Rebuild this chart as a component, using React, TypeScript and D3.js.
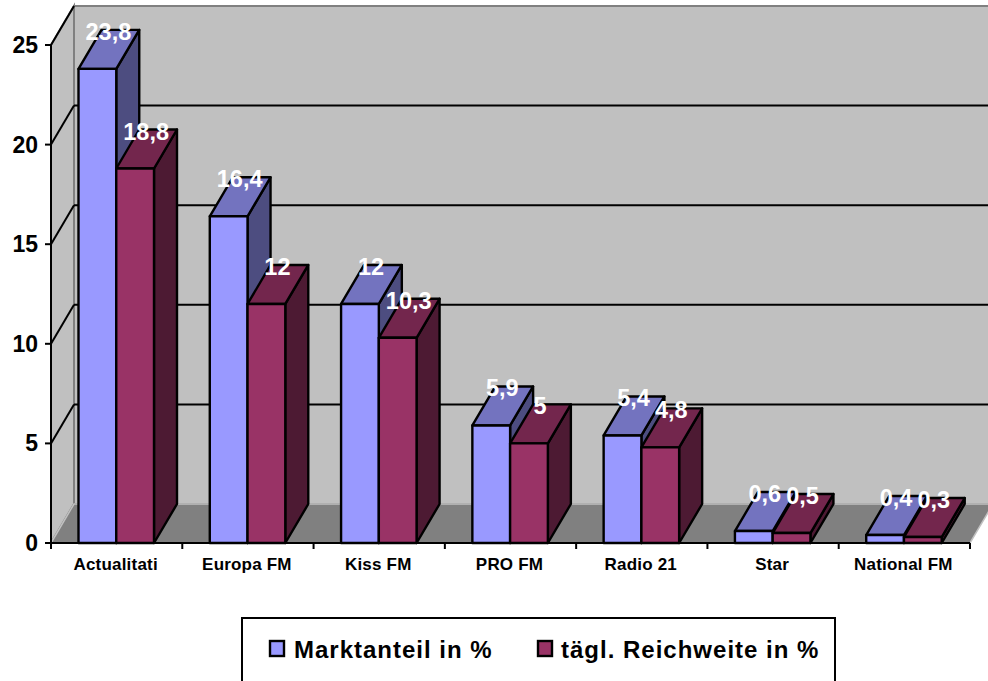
import React from "react";
import * as d3 from "d3";

const categories = ["Actualitati", "Europa FM", "Kiss FM", "PRO FM", "Radio 21", "Star", "National FM"];
const marktanteil = [23.8, 16.4, 12, 5.9, 5.4, 0.6, 0.4];
const reichweite = [18.8, 12, 10.3, 5, 4.8, 0.5, 0.3];
const seriesNames = ["Marktanteil in %", "tägl. Reichweite in %"];
const yTicks = [0, 5, 10, 15, 20, 25];

const W = 988, H = 681;
const DX = 23, DY = -39;
const FONT = "'Liberation Sans', Arial, sans-serif";

const y = d3.scaleLinear().domain([0, 25]).range([543, 45]);
const band = d3.scaleBand<string>().domain(categories).range([51, 970]);
const inner = d3.scaleBand<string>().domain(["a", "b"]).range([27.5, 27.5 + 75.5]);

const poly = (pts: number[][]) => (d3.line()(pts as [number, number][]) ?? "") + "Z";
const fmt = (v: number) => String(v).replace(".", ",");

const seriesStyles = [
  { key: "a", values: marktanteil, front: "#9999FF", top: "#7373BF", side: "#4D4D80" },
  { key: "b", values: reichweite, front: "#993366", top: "#73264D", side: "#4D1A33" },
];

function Bar({ x0, w, v, c }: { x0: number; w: number; v: number; c: (typeof seriesStyles)[number] }) {
  const x1 = x0 + w, yt = y(v), yb = y(0);
  return (
    <g stroke="#000" strokeWidth={2.4} strokeLinejoin="round">
      <path d={poly([[x1, yt], [x1 + DX, yt + DY], [x1 + DX, yb + DY], [x1, yb]])} fill={c.side} />
      <path d={poly([[x0, yt], [x0 + DX, yt + DY], [x1 + DX, yt + DY], [x1, yt]])} fill={c.top} />
      <rect x={x0} y={yt} width={w} height={yb - yt} fill={c.front} />
    </g>
  );
}

export default function App() {
  const x0 = band.range()[0], x1 = band.range()[1];
  const yb = y(0), yt = y(25);
  return (
    <svg width={W} height={H} style={{ position: "absolute", left: 0, top: 0, background: "#fff" }} fontFamily={FONT}>
      <path d={poly([[x0, yb], [x0, yt], [x0 + DX, yt + DY], [x0 + DX, yb + DY]])} fill="#C0C0C0" stroke="#808080" strokeWidth={2} />
      <rect x={x0 + DX} y={yt + DY} width={W} height={yb - yt} fill="#C0C0C0" stroke="#808080" strokeWidth={2} />
      <path d={poly([[x0, yb], [x0 + DX, yb + DY], [x1 + DX, yb + DY], [x1, yb]])} fill="#808080" stroke="#C0C0C0" strokeWidth={1.5} />
      {yTicks.filter((t) => t > 0).map((t) => (
        <g key={t} stroke="#000" strokeWidth={2} fill="none">
          <path d={`M${x0},${y(t)}L${x0 + DX},${y(t) + DY}`} />
          {t < 25 && <path d={`M${x0 + DX},${y(t) + DY}H${W}`} />}
        </g>
      ))}
      <path d={`M${x0},${yb}V${yt}`} stroke="#000" strokeWidth={2} />
      <path d={`M${x0},${yb}H${x1}`} stroke="#000" strokeWidth={2} />
      {yTicks.map((t) => (
        <g key={t}>
          <path d={`M${x0 - 6},${y(t)}H${x0}`} stroke="#000" strokeWidth={2} />
          <text x={38} y={y(t) + 8} textAnchor="end" fontSize={23} fontWeight={700}>{t}</text>
        </g>
      ))}
      {[...categories.map((c) => band(c)!), x1].map((x) => (
        <path key={x} d={`M${x},${yb}V${yb + 6}`} stroke="#000" strokeWidth={2} />
      ))}
      {categories.map((c) => (
        <text key={c} x={band(c)! + band.bandwidth() / 2 - 1} y={570} textAnchor="middle" fontSize={17} fontWeight={700} letterSpacing={0.2}>{c}</text>
      ))}
      {categories.map((c, i) =>
        seriesStyles.map((s) => (
          <Bar key={c + s.key} x0={band(c)! + inner(s.key)!} w={inner.bandwidth()} v={s.values[i]} c={s} />
        ))
      )}
      {categories.map((c, i) =>
        seriesStyles.map((s) => (
          <text key={c + s.key} x={band(c)! + inner(s.key)! + inner.bandwidth() / 2 + 11} y={y(s.values[i]) + DY + 10}
            textAnchor="middle" fontSize={23.5} fontWeight={700} fill="#fff">{fmt(s.values[i])}</text>
        ))
      )}
      <rect x={242} y={618} width={593} height={80} fill="#fff" stroke="#000" strokeWidth={2} />
      <rect x={270} y={641} width={14} height={15} fill="#9999FF" stroke="#000" strokeWidth={2.4} />
      <rect x={538} y={641} width={14} height={15} fill="#993366" stroke="#000" strokeWidth={2.4} />
      <text x={294} y={658} fontSize={24} fontWeight={700} letterSpacing={1}>{seriesNames[0]}</text>
      <text x={561} y={658} fontSize={24} fontWeight={700} letterSpacing={1}>{seriesNames[1]}</text>
    </svg>
  );
}
